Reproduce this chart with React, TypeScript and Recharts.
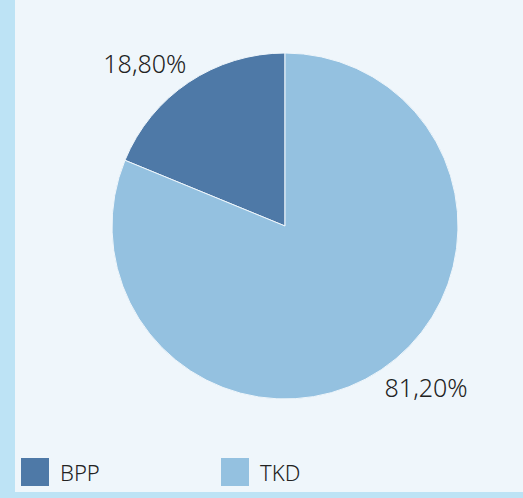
import React from "react";
import { PieChart, Pie, Cell, Legend } from "recharts";

const categories = ["BPP", "TKD"];
const shares = [18.8, 81.2];
const colors = ["#4e79a7", "#94c1e0"];

const data = categories.map((name, i) => ({ name, value: shares[i] }));

const RADIAN = Math.PI / 180;
const FONT = "'Noto Sans', sans-serif";

const renderLabel = (props: any) => {
  const { cx, cy, midAngle, outerRadius, percent } = props;
  const r = outerRadius + 22;
  const px = cx + r * Math.cos(-midAngle * RADIAN);
  const py = cy + r * Math.sin(-midAngle * RADIAN);
  const left = px < cx;
  const text = (percent * 100).toFixed(2).replace(".", ",") + "%";
  return (
    <text
      x={left ? px + 10 : px - 9}
      y={py - 1}
      textAnchor={left ? "end" : "start"}
      dominantBaseline="central"
      fill="#222"
      fontSize={25}
      fontWeight={300}
      fontFamily={FONT}
    >
      {text}
    </text>
  );
};

const renderLegend = () => (
  <div style={{ display: "flex", fontFamily: FONT }}>
    {categories.map((name, i) => (
      <div key={name} style={{ display: "flex", alignItems: "center", width: 200 }}>
        <div style={{ width: 28, height: 28, background: colors[i], marginRight: 11 }} />
        <span style={{ fontSize: 22, fontWeight: 300, color: "#222", lineHeight: "28px" }}>
          {name}
        </span>
      </div>
    ))}
  </div>
);

export default function App() {
  return (
    <div
      style={{
        position: "absolute",
        left: 0,
        top: 0,
        width: 523,
        height: 498,
        background: "#bde3f5",
      }}
    >
      <div
        style={{
          position: "absolute",
          left: 15,
          top: 0,
          width: 508,
          height: 492,
          background: "#eff6fb",
        }}
      />
      <div style={{ position: "absolute", left: 0, top: 0 }}>
        <PieChart width={523} height={498} margin={{ top: 0, right: 0, bottom: 0, left: 0 }}>
          <Pie
            data={data}
            dataKey="value"
            nameKey="name"
            cx={285}
            cy={226}
            outerRadius={173}
            startAngle={90}
            endAngle={450}
            stroke="#eff6fb"
            strokeWidth={1}
            label={renderLabel}
            labelLine={false}
            isAnimationActive={false}
          >
            {data.map((d, i) => (
              <Cell key={d.name} fill={colors[i]} />
            ))}
          </Pie>
          <Legend
            content={renderLegend}
            wrapperStyle={{ position: "absolute", left: 21, top: 458, width: 450, bottom: "auto" }}
          />
        </PieChart>
      </div>
    </div>
  );
}
